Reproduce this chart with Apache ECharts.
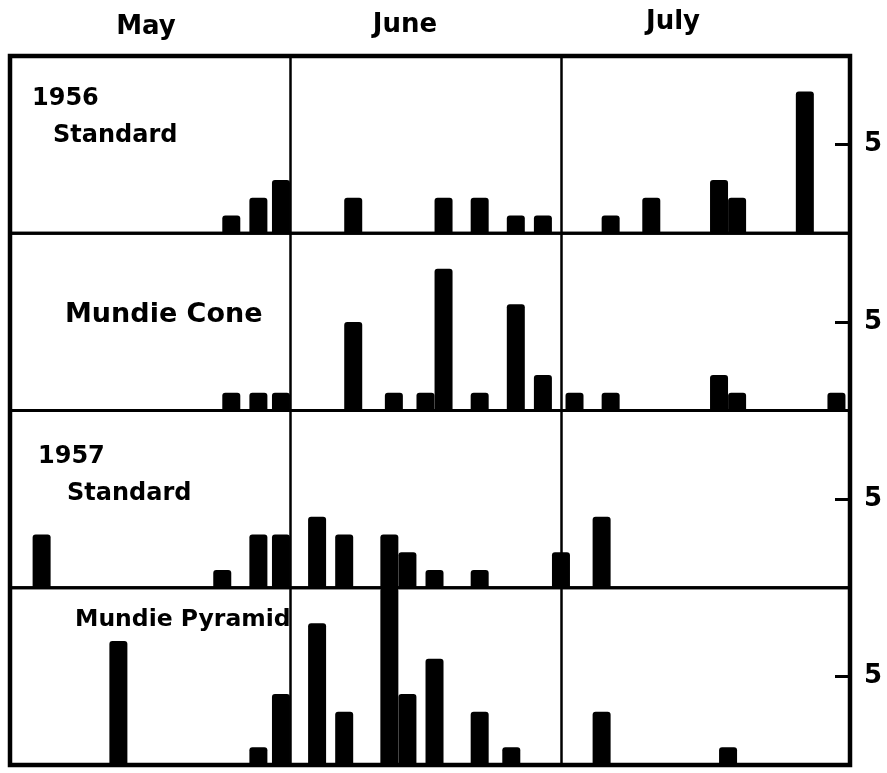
<!DOCTYPE html>
<html>
<head>
<meta charset="utf-8">
<script src="https://cdn.jsdelivr.net/npm/echarts@6/dist/echarts.min.js"></script>
<style>
html,body{margin:0;padding:0;background:#fff;}
#c{width:887px;height:773px;}
</style>
</head>
<body>
<div id="c"></div>
<script>
// ---- Data (day index: 1 = 1 May, 32 = 1 June, 62 = 1 July) ----
const months = ['May', 'June', 'July'];
const monthBoundaries = [31.5, 61.5];
const yTickValues = [5];

const panelTitles = [['1956', 'Standard'], ['Mundie Cone'], ['1957', 'Standard'], ['Mundie Pyramid']];

const days1956Standard   = [25, 28, 30.5, 38.5, 48.5, 52.5, 56.5, 59.5, 67, 71.5, 79, 81, 88.5];
const counts1956Standard = [1, 2, 3, 2, 2, 2, 1, 1, 1, 2, 3, 2, 8];

const days1956Cone   = [25, 28, 30.5, 38.5, 43, 46.5, 48.5, 52.5, 56.5, 59.5, 63, 67, 79, 81, 92];
const counts1956Cone = [1, 1, 1, 5, 1, 1, 8, 1, 6, 2, 1, 1, 2, 1, 1];

const days1957Standard   = [4, 24, 28, 30.5, 34.5, 37.5, 42.5, 44.5, 47.5, 52.5, 61.5, 66];
const counts1957Standard = [3, 1, 3, 3, 4, 3, 3, 2, 1, 1, 2, 4];

const days1957Pyramid   = [12.5, 28, 30.5, 34.5, 37.5, 42.5, 44.5, 47.5, 52.5, 56, 66, 80];
const counts1957Pyramid = [7, 1, 4, 8, 3, 10, 4, 6, 3, 1, 3, 1];

const panelDays = [days1956Standard, days1956Cone, days1957Standard, days1957Pyramid];
const panelCounts = [counts1956Standard, counts1956Cone, counts1957Standard, counts1957Pyramid];

// ---- Layout / style ----
const GRID_LEFT = 10, GRID_RIGHT = 37, GRID_TOP = 56, PANEL_H = 177.25;
const FONT = "'DejaVu Sans', sans-serif";
const monthLabelPos = [[146, 27], [405, 25], [673, 22]];
const titlePos = [
  [[32, 99], [53, 136]],
  [[65, 315]],
  [[38, 457], [67, 494]],
  [[75, 620]]
];
const titleSize = [[24, 24], [27], [24, 24], [23.5]];

const chart = echarts.init(document.getElementById('c'), null, {renderer: 'canvas'});

const grids = [], xAxes = [], yAxes = [], series = [];
for (let i = 0; i < 4; i++) {
  grids.push({
    left: GRID_LEFT, right: GRID_RIGHT, top: GRID_TOP + i * PANEL_H, height: PANEL_H,
    show: true, borderColor: '#000', borderWidth: 3, backgroundColor: 'transparent'
  });
  xAxes.push({
    gridIndex: i, type: 'value', min: 0.5, max: 93.5,
    axisLine: {show: false}, axisTick: {show: false}, axisLabel: {show: false}, splitLine: {show: false}
  });
  yAxes.push({
    gridIndex: i, type: 'value', position: 'right', min: 0, max: 10,
    axisLine: {show: false},
    axisTick: {show: true, inside: true, length: 15, customValues: yTickValues,
               lineStyle: {color: '#000', width: 3}},
    axisLabel: {show: true, customValues: yTickValues, color: '#000', fontSize: 26,
                fontWeight: 'bold', fontFamily: FONT, margin: 14},
    splitLine: {show: false}
  });
  series.push({
    type: 'bar', xAxisIndex: i, yAxisIndex: i,
    data: panelDays[i].map((d, k) => [d, panelCounts[i][k]]),
    barWidth: 18,
    itemStyle: {color: '#000', borderRadius: [3, 3, 0, 0]},
    markLine: {
      silent: true, symbol: 'none', label: {show: false},
      lineStyle: {color: '#000', width: 2.5, type: 'solid'},
      emphasis: {disabled: true},
      data: monthBoundaries.map(v => ({xAxis: v}))
    }
  });
}

const graphic = [];
months.forEach((m, k) => {
  graphic.push({type: 'text', x: monthLabelPos[k][0], y: monthLabelPos[k][1],
    style: {text: m, fill: '#000', font: 'bold 26px ' + FONT, textAlign: 'center', textVerticalAlign: 'middle'}});
});
panelTitles.forEach((lines, i) => {
  lines.forEach((t, j) => {
    graphic.push({type: 'text', x: titlePos[i][j][0], y: titlePos[i][j][1],
      style: {text: t, fill: '#000', font: 'bold ' + titleSize[i][j] + 'px ' + FONT,
              textAlign: 'left', textVerticalAlign: 'middle'}});
  });
});
// outer frame
graphic.push({type: 'rect', z: 100,
  shape: {x: GRID_LEFT, y: GRID_TOP, width: 887 - GRID_LEFT - GRID_RIGHT, height: PANEL_H * 4},
  style: {fill: 'none', stroke: '#000', lineWidth: 4.5}});

chart.setOption({
  backgroundColor: '#fff',
  animation: false,
  grid: grids, xAxis: xAxes, yAxis: yAxes, series: series,
  graphic: graphic
});
</script>
</body>
</html>
